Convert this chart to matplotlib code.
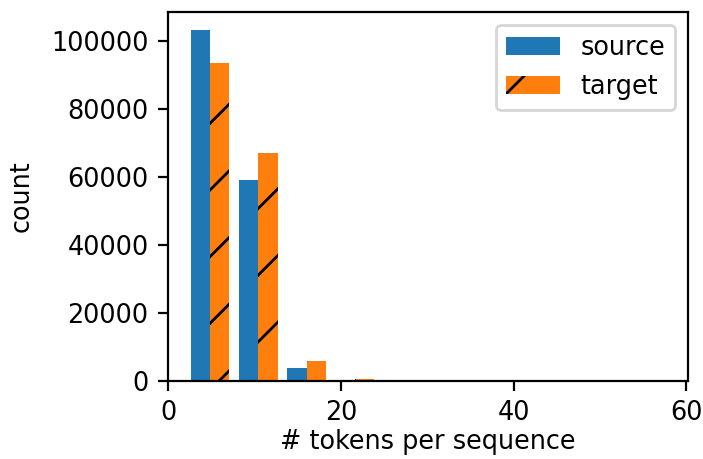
import numpy as np
import matplotlib
matplotlib.use("Agg")
import matplotlib.pyplot as plt

# histogram bins (# tokens per sequence) and counts
bin_edges = [2.0, 7.6, 13.2, 18.8, 24.4, 30.0, 35.6, 41.2, 46.8, 52.4, 58.0]
source_counts = [103440, 59070, 3730, 300, 60, 20, 10, 5, 2, 1]
target_counts = [93450, 67000, 5880, 700, 120, 40, 15, 8, 3, 2]
legend_labels = ["source", "target"]

DPI = 200
plt.rcParams.update({
    "font.size": 9.2,
    "hatch.linewidth": 1.0,
})

fig = plt.figure(figsize=(703 / DPI, 459 / DPI), dpi=DPI)
ax = fig.add_axes([0.2390, 0.1699, 0.9787 - 0.2390, 0.9739 - 0.1699])

centers = [(a + b) / 2 for a, b in zip(bin_edges[:-1], bin_edges[1:])]
_, _, patches = ax.hist([centers, centers], bins=bin_edges,
                        weights=[source_counts, target_counts])
for patch in patches[1].patches:
    patch.set_hatch("/")

ax.set_xlim(-0.05, 60.2)
ax.set_xticks([0, 20, 40, 60])
ax.set_yticks([0, 20000, 40000, 60000, 80000, 100000])
# pulled up a touch so the descenders stay inside the canvas
ax.set_xlabel("# tokens per sequence", labelpad=1.0)
ax.set_ylabel("count", labelpad=6)
ax.legend(legend_labels, loc="upper right", handlelength=2.1)

fig.savefig("out.png", dpi=DPI)
